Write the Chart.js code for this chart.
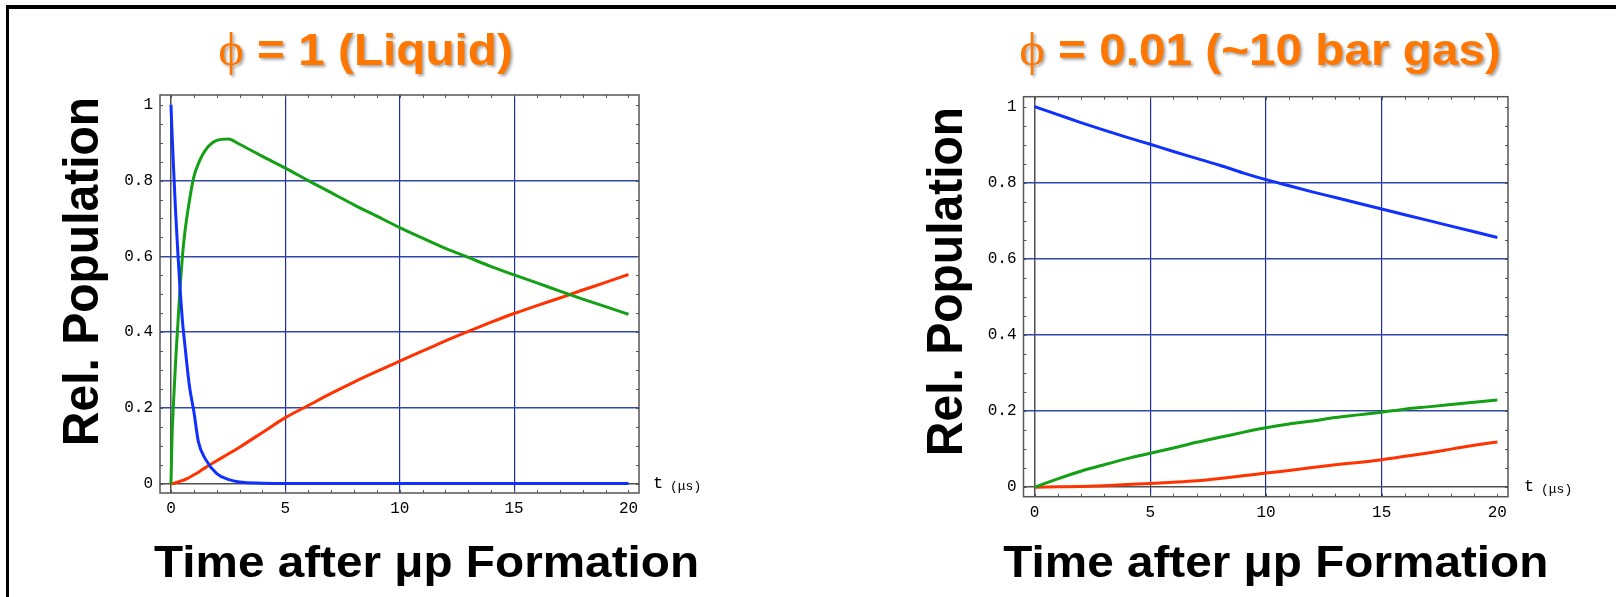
<!DOCTYPE html>
<html><head><meta charset="utf-8">
<script src="https://cdn.jsdelivr.net/npm/chart.js@4.4.1/dist/chart.umd.min.js"></script>
<style>
html,body{margin:0;padding:0;background:#fff;}
body{width:1616px;height:597px;position:relative;overflow:hidden;}
canvas{position:absolute;top:0;}
#frame{position:absolute;left:6px;top:5px;width:1620px;height:600px;border-top:4px solid #000;border-left:3px solid #000;box-sizing:border-box;}
</style></head><body>
<canvas id="c1" width="808" height="597" style="left:0"></canvas>
<canvas id="c2" width="808" height="597" style="left:808px"></canvas>
<div id="frame"></div>
<script>
// ---------- data ----------
const timeLiquid = [0, 0.05, 0.1, 0.2, 0.3, 0.4, 0.5, 0.6, 0.8, 1.0, 1.2, 1.5, 2.0, 2.5, 3.0, 4, 5, 6, 7, 8, 9, 10, 11, 12, 13, 14, 15, 16, 17, 18, 19, 20];
const blueLiquid  = [1.0, 0.92, 0.85, 0.72, 0.61, 0.51, 0.43, 0.37, 0.26, 0.19, 0.11, 0.065, 0.026, 0.011, 0.004, 0.001, 0, 0, 0, 0, 0, 0, 0, 0, 0, 0, 0, 0, 0, 0, 0, 0];
const greenLiquid = [0, 0.13, 0.2, 0.32, 0.42, 0.52, 0.6, 0.66, 0.745, 0.81, 0.845, 0.88, 0.906, 0.91, 0.896, 0.864, 0.833, 0.80, 0.768, 0.736, 0.706, 0.676, 0.648, 0.621, 0.597, 0.573, 0.551, 0.53, 0.508, 0.487, 0.467, 0.447];
const redLiquid   = [0, 0, 0, 0.002, 0.004, 0.006, 0.008, 0.01, 0.016, 0.023, 0.03, 0.042, 0.06, 0.078, 0.096, 0.135, 0.174, 0.206, 0.238, 0.268, 0.296, 0.323, 0.35, 0.377, 0.402, 0.426, 0.449, 0.47, 0.49, 0.511, 0.531, 0.552];

const timeGas  = [0, 1, 2, 3, 4, 5, 6, 7, 8, 9, 10, 11, 12, 13, 14, 15, 16, 17, 18, 19, 20];
const blueGas  = [1.0, 0.979, 0.958, 0.938, 0.919, 0.901, 0.882, 0.864, 0.846, 0.826, 0.808, 0.792, 0.776, 0.761, 0.746, 0.731, 0.716, 0.701, 0.686, 0.671, 0.656];
const greenGas = [0, 0.022, 0.042, 0.059, 0.075, 0.089, 0.103, 0.118, 0.131, 0.144, 0.156, 0.166, 0.174, 0.183, 0.19, 0.197, 0.205, 0.211, 0.217, 0.223, 0.229];
const redGas   = [0, 0.001, 0.002, 0.004, 0.007, 0.0097, 0.013, 0.017, 0.023, 0.03, 0.037, 0.044, 0.052, 0.059, 0.065, 0.072, 0.081, 0.09, 0.1, 0.11, 0.119];

const xTickValues = [0, 5, 10, 15, 20];
const yTickValues = [0, 0.2, 0.4, 0.6, 0.8, 1];
const xMinorTicks = [0,1,2,3,4,5,6,7,8,9,10,11,12,13,14,15,16,17,18,19,20];
const yMinorTicks = [0,0.05,0.1,0.15,0.2,0.25,0.3,0.35,0.4,0.45,0.5,0.55,0.6,0.65,0.7,0.75,0.8,0.85,0.9,0.95,1];

const titleLiquidPhi = 'ϕ', titleLiquidRest = ' = 1 (Liquid)';
const titleGasPhi = 'ϕ', titleGasRest = ' = 0.01 (~10 bar gas)';
const yTitleText = 'Rel. Population';
const xTitleText = 'Time after μp Formation';
const unitT = 't', unitMu = '(μs)';

// ---------- style ----------
const COL_BLUE = '#1030ff', COL_GREEN = '#14a014', COL_RED = '#ff3300';
const GRID_H = 'rgb(50,70,170)', GRID_V = 'rgb(30,45,160)', AXIS = 'rgb(80,80,80)';
const ORANGE = '#ff7700';
const SX = 1.06;

const framePlugin = {
  id: 'mmaFrame',
  beforeDatasetsDraw(chart, args, o) {
    const {ctx, chartArea: a, scales: {x, y}} = chart;
    ctx.save();
    ctx.strokeStyle = '#555'; ctx.lineWidth = 1.5;
    ctx.strokeRect(a.left, a.top, a.right - a.left, a.bottom - a.top);
    ctx.lineWidth = 1;
    ctx.beginPath();
    for (const v of xMinorTicks) {
      const px = Math.round(x.getPixelForValue(v)) + 0.5;
      ctx.moveTo(px, a.bottom); ctx.lineTo(px, a.bottom - 3);
      ctx.moveTo(px, a.top); ctx.lineTo(px, a.top + 3);
    }
    for (const v of yMinorTicks) {
      const py = Math.round(y.getPixelForValue(v)) + 0.5;
      ctx.moveTo(a.left, py); ctx.lineTo(a.left + 3, py);
      ctx.moveTo(a.right, py); ctx.lineTo(a.right - 3, py);
    }
    ctx.stroke();
    ctx.restore();
  },
  afterDraw(chart, args, o) {
    const {ctx, chartArea: a, scales: {y}} = chart;
    const y0 = y.getPixelForValue(0);
    ctx.save();
    ctx.fillStyle = '#000';
    ctx.textAlign = 'left'; ctx.textBaseline = 'alphabetic';
    ctx.font = '17px "Liberation Mono"';
    ctx.fillText(unitT, a.right + o.unitDx, y0 + 4);
    ctx.font = '13px "Liberation Mono"';
    ctx.fillText(unitMu, a.right + o.unitDx + 17, y0 + 6);
    ctx.restore();
  }
};

const textPlugin = {
  id: 'slideText',
  afterDraw(chart, args, o) {
    const ctx = chart.ctx;
    ctx.save();
    ctx.textAlign = 'left'; ctx.textBaseline = 'alphabetic';
    // orange title
    const phiFont = '46px "Liberation Serif", "DejaVu Serif", serif';
    const restFont = 'bold 45px "Liberation Sans", Arial, sans-serif';
    ctx.font = phiFont; const wPhi = ctx.measureText(o.phi).width;
    ctx.font = restFont; const wRest = ctx.measureText(o.rest).width;
    const total = (wPhi + wRest) * SX;
    ctx.save();
    ctx.shadowColor = 'rgba(0,0,0,0.35)'; ctx.shadowOffsetX = 2; ctx.shadowOffsetY = 2; ctx.shadowBlur = 3;
    ctx.fillStyle = ORANGE;
    ctx.translate(o.titleX - total / 2, o.titleY);
    ctx.scale(SX, 1);
    ctx.font = phiFont; ctx.fillText(o.phi, 0, 0);
    ctx.font = restFont; ctx.fillText(o.rest, wPhi, 0);
    ctx.restore();
    // x title
    ctx.save();
    ctx.fillStyle = '#000';
    ctx.font = 'bold 45px "Liberation Sans", Arial, sans-serif';
    ctx.textAlign = 'center';
    ctx.translate(o.xTitleX, o.xTitleY);
    ctx.scale(SX, 1);
    ctx.fillText(xTitleText, 0, 0);
    ctx.restore();
    // y title
    ctx.save();
    ctx.fillStyle = '#000';
    ctx.font = 'bold 48px "Liberation Sans", Arial, sans-serif';
    ctx.textAlign = 'center';
    ctx.translate(o.yTitleX, o.yTitleY);
    ctx.rotate(-Math.PI / 2);
    ctx.scale(1, SX);
    ctx.fillText(yTitleText, 0, 0);
    ctx.restore();
    ctx.restore();
  }
};

function ds(label, times, vals, color) {
  return {
    label, data: times.map((t, i) => ({x: t, y: vals[i]})),
    borderColor: color, borderWidth: 3, pointRadius: 0, fill: false,
    cubicInterpolationMode: 'monotone', borderJoinStyle: 'round'
  };
}

function makeChart(id, times, blue, green, red, c) {
  return new Chart(document.getElementById(id), {
    type: 'line',
    data: { datasets: [ds('A', times, blue, COL_BLUE), ds('B', times, green, COL_GREEN), ds('C', times, red, COL_RED)] },
    options: {
      responsive: false, animation: false, devicePixelRatio: 1,
      layout: { padding: c.padding },
      plugins: {
        legend: {display: false}, tooltip: {enabled: false},
        slideText: c.text,
        mmaFrame: { unitDx: c.unitDx }
      },
      scales: {
        x: {
          type: 'linear', min: c.xMin, max: c.xMax,
          afterBuildTicks: s => { s.ticks = xTickValues.map(v => ({value: v})); },
          afterFit: s => { s.height = 40; },
          border: {display: false},
          grid: {
            drawTicks: false,
            color: ctx => ctx.tick.value === 0 ? AXIS : (ctx.tick.value === 20 ? 'rgba(0,0,0,0)' : GRID_V),
            lineWidth: ctx => ctx.tick.value === 0 ? 1.5 : 1.2
          },
          ticks: { padding: 6, autoSkip: false, maxRotation: 0, color: '#000',
                   font: {family: '"Liberation Mono", monospace', size: 16},
                   callback: v => String(v) }
        },
        y: {
          type: 'linear', min: c.yMin, max: c.yMax,
          afterBuildTicks: s => { s.ticks = yTickValues.map(v => ({value: v})); },
          afterFit: s => { s.width = c.yWidth; },
          border: {display: false},
          grid: {
            drawTicks: false,
            color: ctx => ctx.tick.value === 0 ? AXIS : (ctx.tick.value === 1 ? 'rgba(0,0,0,0)' : GRID_H),
            lineWidth: ctx => ctx.tick.value === 0 ? 1.5 : 1.6
          },
          ticks: { padding: 7, autoSkip: false, color: '#000',
                   font: {family: '"Liberation Mono", monospace', size: 16},
                   callback: v => (v === 0 ? '0' : v === 1 ? '1' : v.toFixed(1)) }
        }
      }
    },
    plugins: [framePlugin, textPlugin]
  });
}

makeChart('c1', timeLiquid, blueLiquid, greenLiquid, redLiquid, {
  padding: {left: 0, top: 95, right: 169, bottom: 64},
  yWidth: 160, xMin: -0.48, xMax: 20.46, yMin: -0.025, yMax: 1.026, unitDx: 14,
  text: { phi: titleLiquidPhi, rest: titleLiquidRest, titleX: 365.5, titleY: 65,
          xTitleX: 426.5, xTitleY: 577, yTitleX: 98, yTitleY: 271.5 }
});
makeChart('c2', timeGas, blueGas, greenGas, redGas, {
  padding: {left: 0, top: 96.7, right: 108, bottom: 60.3},
  yWidth: 215.5, xMin: -0.48, xMax: 20.46, yMin: -0.025, yMax: 1.026, unitDx: 16,
  text: { phi: titleGasPhi, rest: titleGasRest, titleX: 452, titleY: 65,
          xTitleX: 467.8, xTitleY: 577, yTitleX: 154, yTitleY: 281.5 }
});
</script>
</body></html>
